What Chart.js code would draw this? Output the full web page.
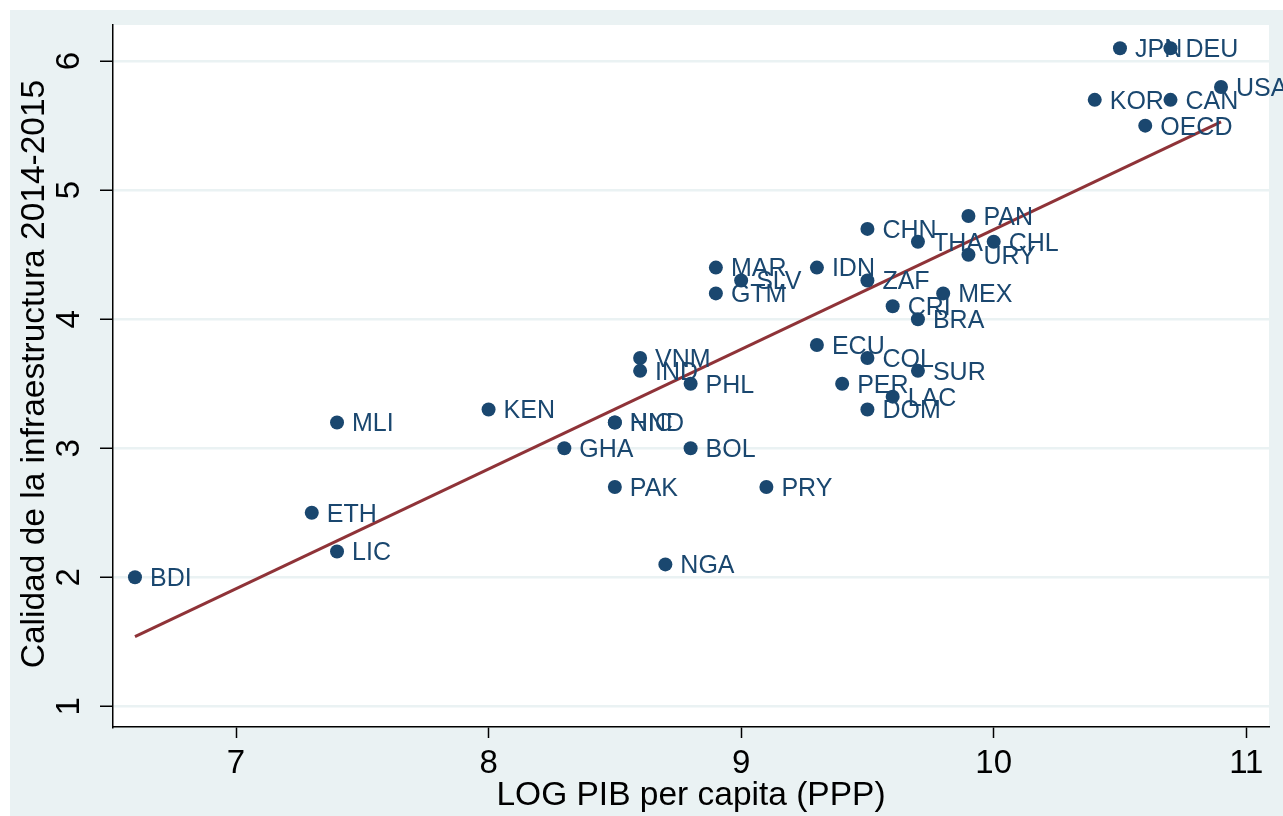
<!DOCTYPE html>
<html>
<head>
<meta charset="utf-8">
<script src="https://cdn.jsdelivr.net/npm/chart.js@4.4.1/dist/chart.umd.min.js"></script>
<style>
  html, body { margin: 0; padding: 0; background: #ffffff; }
  #wrap { width: 1283px; height: 816px; position: relative; }
</style>
</head>
<body>
<div id="wrap"><canvas id="c" width="1283" height="816"></canvas></div>
<script>
// ---- data ----
const countries = ["BDI","ETH","MLI","LIC","KEN","GHA","HND","NIC","PAK","VNM","IND","NGA","PHL","BOL","MAR","GTM","SLV","PRY","IDN","ECU","PER","CHN","ZAF","COL","DOM","CRI","LAC","THA","BRA","SUR","MEX","PAN","URY","CHL","KOR","JPN","DEU","CAN","OECD","USA"];
const logGdp   = [6.6, 7.3, 7.4, 7.4, 8.0, 8.3, 8.5, 8.5, 8.5, 8.6, 8.6, 8.7, 8.8, 8.8, 8.9, 8.9, 9.0, 9.1, 9.3, 9.3, 9.4, 9.5, 9.5, 9.5, 9.5, 9.6, 9.6, 9.7, 9.7, 9.7, 9.8, 9.9, 9.9, 10.0, 10.4, 10.5, 10.7, 10.7, 10.6, 10.9];
const infraQ   = [2.0, 2.5, 3.2, 2.2, 3.3, 3.0, 3.2, 3.2, 2.7, 3.7, 3.6, 2.1, 3.5, 3.0, 4.4, 4.2, 4.3, 2.7, 4.4, 3.8, 3.5, 4.7, 4.3, 3.7, 3.3, 4.1, 3.4, 4.6, 4.0, 3.6, 4.2, 4.8, 4.5, 4.6, 5.7, 6.1, 6.1, 5.7, 5.5, 5.8];
const fitX = [6.6, 10.9];
const fitY = [1.54, 5.53];
const xTicks = [7, 8, 9, 10, 11];
const yTicks = [1, 2, 3, 4, 5, 6];
const xTitle = "LOG PIB per capita (PPP)";
const yTitle = "Calidad de la infraestructura 2014-2015";

const FONT = '"Liberation Sans", Arial, sans-serif';
const NAVY = '#1a476f';
const PANEL = '#eaf2f3';

const scatterData = countries.map((c, i) => ({ x: logGdp[i], y: infraQ[i], label: c }));
const fitData = fitX.map((x, i) => ({ x: x, y: fitY[i] }));

const bgPlugin = {
  id: 'bg',
  beforeDraw(chart) {
    const ctx = chart.ctx, a = chart.chartArea;
    ctx.save();
    ctx.fillStyle = '#ffffff';
    ctx.fillRect(0, 0, chart.width, chart.height);
    ctx.fillStyle = PANEL;
    ctx.fillRect(10, 10, chart.width - 10, chart.height - 10);
    ctx.fillStyle = '#ffffff';
    ctx.fillRect(a.left, a.top, a.right - a.left, a.bottom - a.top);
    ctx.restore();
  },
  afterDraw(chart) {
    const ctx = chart.ctx;
    const a = chart.chartArea;
    const ys = chart.scales.y;
    ctx.save();
    // keep the corner below the x axis clean
    ctx.fillStyle = PANEL;
    ctx.fillRect(a.left - 4, a.bottom + 2, 8, 14);
    // rotated y tick labels
    ctx.fillStyle = '#000';
    ctx.font = '33px ' + FONT;
    ctx.textAlign = 'center';
    ctx.textBaseline = 'middle';
    ys.ticks.forEach(t => {
      const py = ys.getPixelForValue(t.value);
      ctx.save();
      ctx.translate(70, py);
      ctx.rotate(-Math.PI / 2);
      ctx.fillText(String(t.value), 0, 0);
      ctx.restore();
    });
    // y title
    ctx.save();
    ctx.translate(35, 374);
    ctx.rotate(-Math.PI / 2);
    ctx.font = '33.5px ' + FONT;
    ctx.fillText(yTitle, 0, 0);
    ctx.restore();
    // x title
    ctx.font = '33.5px ' + FONT;
    ctx.fillText(xTitle, 691, 796);
    // point labels
    const meta = chart.getDatasetMeta(1);
    ctx.font = '25px ' + FONT;
    ctx.textAlign = 'left';
    ctx.fillStyle = NAVY;
    meta.data.forEach((el, i) => {
      ctx.fillText(scatterData[i].label, el.x + 15, el.y + 2);
    });
    ctx.restore();
  }
};

new Chart(document.getElementById('c'), {
  type: 'scatter',
  data: {
    datasets: [
      {
        type: 'line',
        data: fitData,
        borderColor: '#8f3338',
        borderWidth: 3,
        pointRadius: 0,
        fill: false,
        order: 2
      },
      {
        type: 'scatter',
        data: scatterData,
        backgroundColor: NAVY,
        borderWidth: 0,
        pointRadius: 7,
        order: 1
      }
    ]
  },
  options: {
    responsive: false,
    animation: false,
    events: [],
    layout: { padding: { left: 0, top: 25, right: 14, bottom: 0 } },
    plugins: { legend: { display: false }, tooltip: { enabled: false } },
    scales: {
      x: {
        type: 'linear',
        min: 6.513,
        max: 11.09,
        afterBuildTicks(s) { s.ticks = xTicks.map(v => ({ value: v })); },
        afterFit(s) { s.height = 89; },
        border: { display: true, color: '#000', width: 1.5 },
        grid: {
          drawOnChartArea: false, drawTicks: true, tickLength: 11, tickWidth: 1.5,
          tickColor: (c) => (c.tick && xTicks.includes(c.tick.value)) ? '#000' : 'rgba(0,0,0,0)'
        },
        ticks: { color: '#000', font: { family: FONT, size: 33 }, padding: 6, maxRotation: 0, minRotation: 0 }
      },
      y: {
        type: 'linear',
        min: 0.84,
        max: 6.28,
        afterBuildTicks(s) { s.ticks = yTicks.map(v => ({ value: v })); },
        afterFit(s) { s.width = 113; },
        border: { display: true, color: '#000', width: 1.5 },
        grid: { color: PANEL, lineWidth: 2.5, drawTicks: true, tickLength: 13, tickColor: '#000', tickWidth: 1.5 },
        ticks: { display: false }
      }
    }
  },
  plugins: [bgPlugin]
});
</script>
</body>
</html>
